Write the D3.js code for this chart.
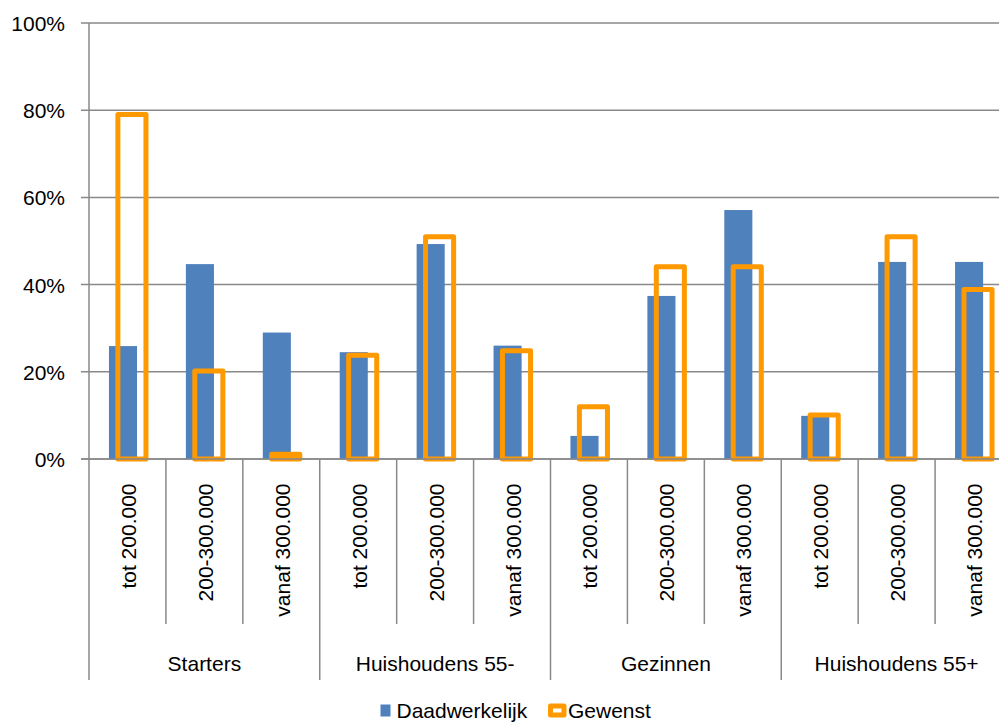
<!DOCTYPE html>
<html>
<head>
<meta charset="utf-8">
<script src="https://cdn.jsdelivr.net/npm/d3@7"></script>
<style>
  html, body { margin: 0; padding: 0; background: #fff; }
  svg { display: block; font-family: "Liberation Sans", Arial, Helvetica, sans-serif; }
</style>
</head>
<body>
<svg id="chart" width="999" height="722"></svg>
<script>
// Price classes per household type
const groups = ["Starters", "Huishoudens 55-", "Gezinnen", "Huishoudens 55+"];
const priceClasses = ["tot 200.000", "200-300.000", "vanaf 300.000"];

// Share per price class (percent), in group order
const daadwerkelijk = [25.9, 44.7, 29.0, 24.5, 49.3, 26.0, 5.3, 37.4, 57.1, 9.9, 45.2, 45.2];
const gewenst       = [79.0, 20.2, 1.1, 23.8, 51.0, 24.8, 12.0, 44.1, 44.1, 10.1, 51.0, 38.9];

const yTicks = [0, 20, 40, 60, 80, 100];
const seriesNames = ["Daadwerkelijk", "Gewenst"];

const BLUE = "#4F81BD";
const ORANGE = "#FF9900";
const GRID = "#898989";
const FONT = 21;

const rows = [];
groups.forEach((g, gi) => priceClasses.forEach((p, pi) => {
  const i = gi * priceClasses.length + pi;
  rows.push({ i, group: g, label: p, actual: daadwerkelijk[i], wanted: gewenst[i] });
}));

const svg = d3.select("#chart");
const plotLeft = 89, plotRight = 1012, plotTop = 23, plotBottom = 459;

const x = d3.scaleBand().domain(rows.map(d => d.i)).range([plotLeft, plotRight]).padding(0);
const y = d3.scaleLinear().domain([0, 100]).range([plotBottom, plotTop]);

const bw = x.bandwidth();
const barW = bw * 0.365;
const shift = bw * 0.058;

// Horizontal gridlines plus left tick marks
svg.append("g").selectAll("line").data(yTicks).join("line")
  .attr("x1", plotLeft - 8).attr("x2", plotRight)
  .attr("y1", d => y(d)).attr("y2", d => y(d))
  .attr("stroke", GRID).attr("stroke-width", 1.5);

// Value axis line, continuing down through the category rows
svg.append("line")
  .attr("x1", plotLeft).attr("x2", plotLeft)
  .attr("y1", y(100)).attr("y2", 680)
  .attr("stroke", GRID).attr("stroke-width", 1.5);

// Y tick labels
svg.append("g").selectAll("text").data(yTicks).join("text")
  .attr("x", 65).attr("y", d => y(d) + 8)
  .attr("text-anchor", "end")
  .attr("font-size", FONT).attr("fill", "#000")
  .text(d => d + "%");

// Category separators: short between price classes, long between groups
const bounds = d3.range(1, rows.length + 1);
svg.append("g").selectAll("line").data(bounds).join("line")
  .attr("x1", d => plotLeft + d * bw).attr("x2", d => plotLeft + d * bw)
  .attr("y1", plotBottom)
  .attr("y2", d => d % priceClasses.length === 0 ? 680 : 624)
  .attr("stroke", GRID).attr("stroke-width", 1.5);

// Actual share bars
svg.append("g").selectAll("rect").data(rows).join("rect")
  .attr("x", d => x(d.i) + bw / 2 - shift - barW / 2)
  .attr("width", barW)
  .attr("y", d => y(d.actual))
  .attr("height", d => y(0) - y(d.actual))
  .attr("fill", BLUE);

// Desired share as outlined bars
svg.append("g").selectAll("rect").data(rows).join("rect")
  .attr("x", d => x(d.i) + bw / 2 + shift - barW / 2)
  .attr("width", barW)
  .attr("y", d => y(d.wanted))
  .attr("height", d => y(0) - y(d.wanted))
  .attr("fill", "none")
  .attr("stroke", ORANGE).attr("stroke-width", 5)
  .attr("stroke-linejoin", "round");

// Category axis baseline
svg.append("line")
  .attr("x1", plotLeft - 8).attr("x2", plotRight)
  .attr("y1", plotBottom).attr("y2", plotBottom)
  .attr("stroke", GRID).attr("stroke-width", 1.5);

// Rotated price class labels
svg.append("g").selectAll("text").data(rows).join("text")
  .attr("transform", d => `translate(${x(d.i) + bw / 2 + 8.5},483.5) rotate(-90)`)
  .attr("text-anchor", "end")
  .attr("font-size", FONT).attr("fill", "#000")
  .text(d => d.label);

// Group labels
svg.append("g").selectAll("text").data(groups).join("text")
  .attr("x", (d, gi) => plotLeft + (gi + 0.5) * priceClasses.length * bw)
  .attr("y", 670.5)
  .attr("text-anchor", "middle")
  .attr("font-size", FONT).attr("fill", "#000")
  .text(d => d);

// Legend
const lg = svg.append("g");
lg.append("rect").attr("x", 380.5).attr("y", 704.5).attr("width", 10).attr("height", 12).attr("fill", BLUE);
lg.append("text").attr("x", 396.5).attr("y", 717.5).attr("font-size", FONT).text(seriesNames[0]);
lg.append("rect").attr("x", 550.5).attr("y", 706).attr("width", 13.5).attr("height", 9)
  .attr("fill", "#fff").attr("stroke", ORANGE).attr("stroke-width", 5).attr("stroke-linejoin", "round");
lg.append("text").attr("x", 568).attr("y", 717.5).attr("font-size", FONT).text(seriesNames[1]);
</script>
</body>
</html>
